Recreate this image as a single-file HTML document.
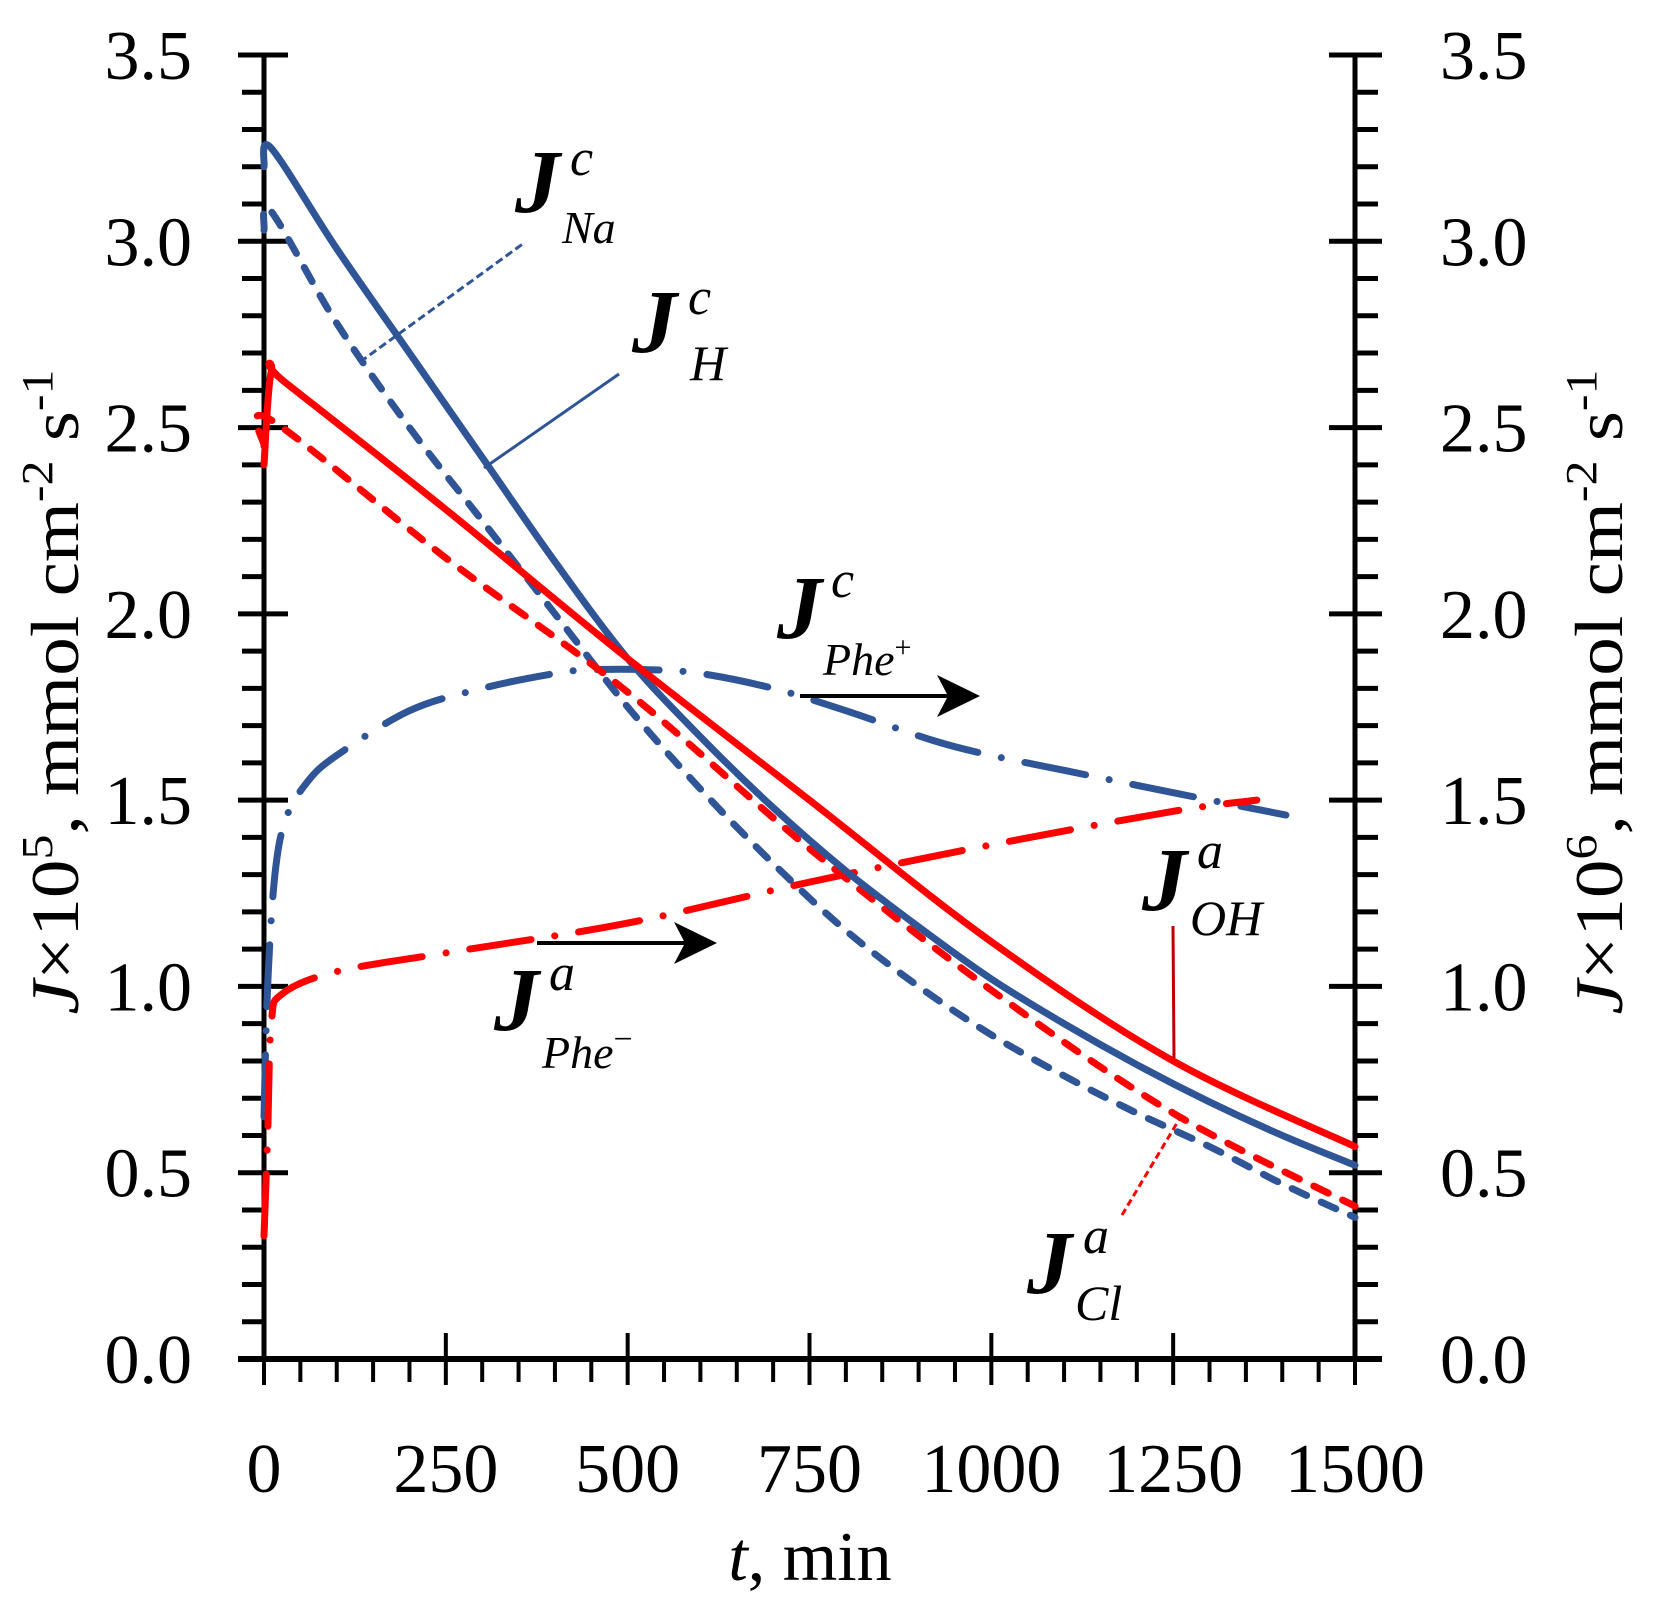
<!DOCTYPE html>
<html><head><meta charset="utf-8"><style>
html,body{margin:0;padding:0;background:#fff;}
svg{display:block;}
text{font-family:"Liberation Serif",serif;fill:#000;}
</style></head><body>
<svg id="chart" width="1656" height="1612" viewBox="0 0 1656 1612" xmlns="http://www.w3.org/2000/svg">
<g id="axes"></g>
<g id="series"></g>
<g id="annot">
  <line x1="360" y1="362" x2="524" y2="243" stroke="#2F5597" stroke-width="3" stroke-dasharray="8 4"/>
  <line x1="484" y1="468" x2="619" y2="374" stroke="#2F5597" stroke-width="3"/>
  <line x1="1173" y1="926" x2="1174" y2="1058" stroke="#C00000" stroke-width="3"/>
  <line x1="1122" y1="1215" x2="1180" y2="1118" stroke="#FF0000" stroke-width="3" stroke-dasharray="7 4"/>
  <g>
    <line x1="800" y1="696" x2="960" y2="696" stroke="#000" stroke-width="4"/>
    <polygon points="980,696 937,675 948,696 937,717" fill="#000"/>
  </g>
  <g>
    <line x1="537" y1="943" x2="697" y2="943" stroke="#000" stroke-width="4"/>
    <polygon points="717,943 674,922 685,943 674,964" fill="#000"/>
  </g>
  <g font-style="italic">
    <text x="515" y="212" font-size="90" font-weight="bold">J</text>
    <text x="570" y="175" font-size="52">c</text>
    <text x="562" y="243" font-size="46">Na</text>
  </g>
  <g font-style="italic">
    <text x="632" y="352" font-size="90" font-weight="bold">J</text>
    <text x="688" y="314" font-size="52">c</text>
    <text x="690" y="380" font-size="50">H</text>
  </g>
  <g font-style="italic">
    <text x="777" y="638" font-size="90" font-weight="bold">J</text>
    <text x="831" y="597" font-size="52">c</text>
    <text x="823" y="675" font-size="46">Phe<tspan font-style="normal" font-size="30" dy="-18">+</tspan></text>
  </g>
  <g font-style="italic">
    <text x="1142" y="910" font-size="90" font-weight="bold">J</text>
    <text x="1197" y="868" font-size="52">a</text>
    <text x="1190" y="935" font-size="50">OH</text>
  </g>
  <g font-style="italic">
    <text x="494" y="1030" font-size="90" font-weight="bold">J</text>
    <text x="549" y="990" font-size="52">a</text>
    <text x="542" y="1068" font-size="46">Phe<tspan font-style="normal" font-size="34" dy="-18">−</tspan></text>
  </g>
  <g font-style="italic">
    <text x="1027" y="1293" font-size="90" font-weight="bold">J</text>
    <text x="1083" y="1253" font-size="52">a</text>
    <text x="1075" y="1320" font-size="50">Cl</text>
  </g>
</g>
<text x="810" y="1580" font-size="70" text-anchor="middle"><tspan font-style="italic">t</tspan>, min</text>
<text transform="translate(78,692) rotate(-90)" font-size="68" text-anchor="middle" textLength="645" lengthAdjust="spacingAndGlyphs"><tspan font-style="italic">J</tspan>×10<tspan font-size="44" dy="-26">5</tspan><tspan dy="26">, mmol cm</tspan><tspan font-size="44" dy="-26">-2</tspan><tspan dy="26"> s</tspan><tspan font-size="44" dy="-26">-1</tspan></text>
<text transform="translate(1622,692) rotate(-90)" font-size="68" text-anchor="middle" textLength="645" lengthAdjust="spacingAndGlyphs"><tspan font-style="italic">J</tspan>×10<tspan font-size="44" dy="-26">6</tspan><tspan dy="26">, mmol cm</tspan><tspan font-size="44" dy="-26">-2</tspan><tspan dy="26"> s</tspan><tspan font-size="44" dy="-26">-1</tspan></text>
</svg>
<script>
// ---- data ----
const xTicks = [0, 250, 500, 750, 1000, 1250, 1500];
const yTicks = [0.0, 0.5, 1.0, 1.5, 2.0, 2.5, 3.0, 3.5];
const yTickLabels = ["0.0","0.5","1.0","1.5","2.0","2.5","3.0","3.5"];
const tH  = [0, 10, 100, 200, 300, 400, 500, 600, 700, 800, 900, 1000, 1100, 1200, 1300, 1400, 1500];
const jH  = [3.20, 3.25, 2.98, 2.70, 2.42, 2.14, 1.88, 1.67, 1.48, 1.31, 1.16, 1.02, 0.90, 0.79, 0.69, 0.60, 0.52];
const tNa = [0, 10, 100, 200, 300, 400, 500, 600, 700, 800, 900, 1000, 1100, 1200, 1300, 1400, 1500];
const jNa = [3.03, 3.08, 2.78, 2.50, 2.25, 2.00, 1.75, 1.53, 1.33, 1.15, 1.00, 0.87, 0.76, 0.66, 0.57, 0.47, 0.38];
const tOH = [0, 10, 30, 250, 500, 750, 1000, 1250, 1500];
const jOH = [2.40, 2.65, 2.62, 2.28, 1.88, 1.50, 1.12, 0.80, 0.57];
const tCl = [0, 10, 250, 500, 750, 1000, 1250, 1500];
const jCl = [2.45, 2.52, 2.15, 1.79, 1.37, 0.99, 0.66, 0.41];
const tPheP = [0, 5, 15, 30, 60, 100, 200, 300, 400, 450, 530, 600, 700, 800, 920, 1000, 1100, 1250, 1405];
const jPheP = [0.65, 1.00, 1.30, 1.45, 1.55, 1.62, 1.74, 1.80, 1.84, 1.85, 1.85, 1.84, 1.80, 1.74, 1.66, 1.62, 1.58, 1.52, 1.46];
const tPheM = [0, 5, 10, 25, 100, 250, 500, 750, 1000, 1250, 1365];
const jPheM = [0.33, 0.60, 0.90, 0.98, 1.04, 1.09, 1.17, 1.28, 1.38, 1.47, 1.50];

// ---- scales ----
const X0 = 264, X1 = 1355, Y0 = 1359, Y1 = 55;
const xs = t => X0 + (t / 1500) * (X1 - X0);
const ys = v => Y0 - (v / 3.5) * (Y0 - Y1);
const NS = "http://www.w3.org/2000/svg";
function mk(tag, attrs, parent) {
  const e = document.createElementNS(NS, tag);
  for (const k in attrs) e.setAttribute(k, attrs[k]);
  parent.appendChild(e);
  return e;
}
const axes = document.getElementById('axes');
const series = document.getElementById('series');

let l;
l = mk('line', {x1: X0, y1: Y1, x2: X0, y2: Y0 + 2, stroke: '#000', 'stroke-width': 5}, axes);


l = mk('line', {x1: X1, y1: Y1, x2: X1, y2: Y0 + 2, stroke: '#000', 'stroke-width': 5}, axes);


l = mk('line', {x1: 238, y1: Y0, x2: 1382, y2: Y0, stroke: '#000', 'stroke-width': 6}, axes);



for (let i = 0; i <= 35; i++) {
  const v = i / 10, y = ys(v), major = i % 5 === 0;
  if (major) {
    mk('line', {x1: 238, y1: y, x2: 288, y2: y, stroke: '#000', 'stroke-width': 5}, axes);
    mk('line', {x1: 1329, y1: y, x2: 1382, y2: y, stroke: '#000', 'stroke-width': 5}, axes);
  } else {
    mk('line', {x1: 242, y1: y, x2: X0, y2: y, stroke: '#000', 'stroke-width': 5}, axes);
    mk('line', {x1: X1, y1: y, x2: 1378, y2: y, stroke: '#000', 'stroke-width': 5}, axes);
  }
}
yTicks.forEach((v, i) => {
  const t1 = mk('text', {x: 192, y: ys(v) + 24, 'font-size': 70, 'text-anchor': 'end'}, axes);
  t1.textContent = yTickLabels[i];
  
  
  const t2 = mk('text', {x: 1440, y: ys(v) + 24, 'font-size': 70, 'text-anchor': 'start'}, axes);
  t2.textContent = yTickLabels[i];
  
  
});
for (let t = 0; t <= 1500; t += 50) {
  const x = xs(t), major = t % 250 === 0;
  if (major) mk('line', {x1: x, y1: 1333, x2: x, y2: 1385, stroke: '#000', 'stroke-width': 4}, axes);
  else mk('line', {x1: x, y1: Y0, x2: x, y2: 1382, stroke: '#000', 'stroke-width': 4}, axes);
}
xTicks.forEach(t => {
  const tx = mk('text', {x: xs(t), y: 1492, 'font-size': 70, 'text-anchor': 'middle'}, axes);
  tx.textContent = String(t);
  
  
});

function path(ts, vs) {
  const p = ts.map((t, i) => [xs(t), ys(vs[i])]);
  let d = 'M' + p[0][0] + ',' + p[0][1];
  for (let i = 0; i < p.length - 1; i++) {
    const p0 = p[Math.max(0, i - 1)], p1 = p[i], p2 = p[i + 1], p3 = p[Math.min(p.length - 1, i + 2)];
    const c1 = [p1[0] + (p2[0] - p0[0]) / 6, p1[1] + (p2[1] - p0[1]) / 6];
    const c2 = [p2[0] - (p3[0] - p1[0]) / 6, p2[1] - (p3[1] - p1[1]) / 6];
    d += ` C${c1[0]},${c1[1]} ${c2[0]},${c2[1]} ${p2[0]},${p2[1]}`;
  }
  return d;
}
const BLUE = '#2F5597', RED = '#FF0000';
let s;
s = mk('path', {d: path(tPheP, jPheP), fill: 'none', stroke: BLUE, 'stroke-width': 7, 'stroke-linecap': 'round', 'stroke-dasharray': '62 24 0.1 24'}, series);


s = mk('path', {d: path(tPheM, jPheM), fill: 'none', stroke: RED, 'stroke-width': 7, 'stroke-linecap': 'round', 'stroke-dasharray': '62 24 0.1 24'}, series);


s = mk('path', {d: path(tNa, jNa), fill: 'none', stroke: BLUE, 'stroke-width': 7, 'stroke-linecap': 'round', 'stroke-dasharray': '16 16'}, series);


s = mk('path', {d: path(tCl, jCl), fill: 'none', stroke: RED, 'stroke-width': 7, 'stroke-linecap': 'round', 'stroke-dasharray': '16 16'}, series);


s = mk('path', {d: path(tH, jH), fill: 'none', stroke: BLUE, 'stroke-width': 7, 'stroke-linecap': 'round'}, series);


s = mk('path', {d: path(tOH, jOH), fill: 'none', stroke: RED, 'stroke-width': 7, 'stroke-linecap': 'round'}, series);


</script>
</body></html>
